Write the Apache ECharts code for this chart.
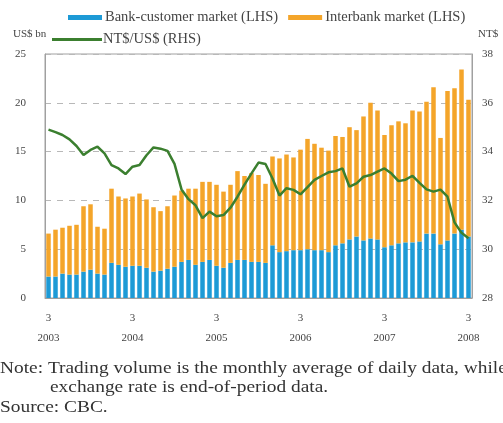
<!DOCTYPE html>
<html>
<head>
<meta charset="utf-8">
<script src="https://cdn.jsdelivr.net/npm/echarts@6/dist/echarts.min.js"></script>
<style>
html,body{margin:0;padding:0;background:#fff;overflow:hidden;}
#chart{width:503px;height:423px;}
</style>
</head>
<body>
<div id="chart"></div>
<script>
// Monthly, Mar 2003 – Mar 2008
const startYear = 2003, startMonth = 3, monthCount = 61;
const categories = [];
for (let i = 0; i < monthCount; i++) {
  const m = (startMonth - 1 + i) % 12 + 1;
  const y = startYear + Math.floor((startMonth - 1 + i) / 12);
  categories.push(y + '-' + (m < 10 ? '0' + m : m));
}

const bankCustomer = [
  2.2, 2.2, 2.5, 2.4, 2.4, 2.7, 2.9, 2.5, 2.4, 3.6,
  3.4, 3.2, 3.3, 3.3, 3.1, 2.7, 2.8, 3.0, 3.2, 3.7,
  3.9, 3.4, 3.7, 3.9, 3.3, 3.1, 3.6, 3.9, 3.9, 3.7,
  3.7, 3.6, 5.4, 4.7, 4.8, 4.9, 4.9, 5.0, 4.9, 4.9,
  4.7, 5.4, 5.6, 6.0, 6.3, 5.9, 6.1, 6.0, 5.2, 5.4,
  5.6, 5.7, 5.7, 5.8, 6.6, 6.6, 5.5, 5.9, 6.6, 7.0,
  6.3
];
const interbank = [
  4.4, 4.8, 4.7, 5.0, 5.1, 6.7, 6.7, 4.8, 4.7, 7.6,
  7.0, 7.0, 7.1, 7.4, 7.0, 6.6, 6.1, 6.4, 7.3, 7.3,
  7.3, 7.8, 8.2, 8.0, 8.3, 7.8, 8.0, 9.1, 8.6, 9.1,
  8.9, 8.1, 9.1, 9.6, 9.9, 9.5, 10.3, 11.3, 10.9, 10.5,
  10.4, 11.2, 10.9, 11.5, 10.9, 12.7, 13.9, 13.2, 11.5, 12.3,
  12.5, 12.2, 13.5, 13.3, 13.5, 15.0, 10.9, 15.3, 14.9, 16.4,
  14.0
];
const ntdPerUsd = [
  34.90, 34.80, 34.68, 34.50, 34.23, 33.86, 34.07, 34.20, 33.93, 33.45,
  33.31, 33.08, 33.38, 33.45, 33.85, 34.17, 34.12, 34.03, 33.50, 32.45,
  32.05, 31.80, 31.27, 31.54, 31.35, 31.40, 31.70, 32.15, 32.65, 33.11,
  33.55, 33.49, 32.90, 32.20, 32.50, 32.43, 32.25, 32.54, 32.84, 33.00,
  33.15, 33.20, 33.31, 32.56, 32.70, 32.97, 33.04, 33.18, 33.31, 33.10,
  32.79, 32.85, 33.01, 32.72, 32.45, 32.36, 32.44, 32.15, 31.10, 30.67,
  30.45
];
const leftTicks = { min: 0, max: 25, interval: 5 };
const rightTicks = { min: 28, max: 38, interval: 2 };

const serif = 'Liberation Serif';
const chart = echarts.init(document.getElementById('chart'), null, { renderer: 'canvas' });
chart.setOption({
  animation: false,
  backgroundColor: '#fff',
  textStyle: { fontFamily: serif },
  grid: { left: 45, right: 31, top: 54, bottom: 125, show: true, borderColor: '#a0a0a0', borderWidth: 1, backgroundColor: 'transparent' },
  legend: [
    {
      data: ['Bank-customer market (LHS)', 'Interbank market (LHS)'],
      left: 63, top: 5, itemWidth: 34, itemHeight: 5, itemGap: 10,
      icon: 'rect',
      textStyle: { fontFamily: serif, fontSize: 14.5, color: '#444', padding: [0, 0, 0, -2] }
    },
    {
      data: ['NT$/US$ (RHS)'],
      left: 47, top: 27, itemWidth: 50, itemHeight: 3, itemGap: 4,
      icon: 'rect',
      textStyle: { fontFamily: serif, fontSize: 14.5, color: '#444', padding: [0, 0, 0, -4] }
    }
  ],
  xAxis: {
    type: 'category',
    data: categories,
    boundaryGap: true,
    axisLine: { show: true, lineStyle: { color: '#a0a0a0' } },
    axisTick: { show: false },
    axisLabel: {
      interval: (idx) => idx % 12 === 0,
      formatter: (v) => { const p = v.split('-'); return parseInt(p[1], 10) + '\n' + p[0]; },
      fontFamily: serif, fontSize: 11, color: '#444', lineHeight: 20, margin: 10
    }
  },
  yAxis: [
    {
      type: 'value', min: leftTicks.min, max: leftTicks.max, interval: leftTicks.interval,
      axisLine: { show: true, lineStyle: { color: '#a0a0a0' } },
      axisTick: { show: false },
      axisLabel: { fontFamily: serif, fontSize: 11, color: '#444', margin: 19 },
      splitLine: { show: true, lineStyle: { color: '#b8b8b8', type: [6, 6], width: 1 } }
    },
    {
      type: 'value', min: rightTicks.min, max: rightTicks.max, interval: rightTicks.interval,
      position: 'right',
      axisLine: { show: true, lineStyle: { color: '#a0a0a0' } },
      axisTick: { show: false },
      axisLabel: { fontFamily: serif, fontSize: 11, color: '#444', margin: 10 },
      splitLine: { show: false }
    }
  ],
  series: [
    {
      name: 'Bank-customer market (LHS)', type: 'bar', stack: 'vol', yAxisIndex: 0,
      data: bankCustomer, barWidth: 4.5, itemStyle: { color: '#1d9ad6' }
    },
    {
      name: 'Interbank market (LHS)', type: 'bar', stack: 'vol', yAxisIndex: 0,
      data: interbank, barWidth: 4.5, itemStyle: { color: '#f4a52a' }
    },
    {
      name: 'NT$/US$ (RHS)', type: 'line', yAxisIndex: 1,
      data: ntdPerUsd, symbol: 'none', smooth: false,
      lineStyle: { color: '#3b7f2f', width: 2.5 }, itemStyle: { color: '#3b7f2f' }, z: 5
    }
  ],
  graphic: [
    { type: 'text', x: 13, y: 29, style: { text: 'US$ bn', font: '11px "Liberation Serif"', fill: '#444' } },
    { type: 'text', x: 478, y: 29, style: { text: 'NT$', font: '11px "Liberation Serif"', fill: '#444' } },
    { type: 'text', x: 0, y: 360, scaleX: 1.14, style: { text: 'Note: Trading volume is the monthly average of daily data, while', font: '17px "Liberation Serif"', fill: '#333' } },
    { type: 'text', x: 50, y: 379, scaleX: 1.14, style: { text: 'exchange rate is end-of-period data.', font: '17px "Liberation Serif"', fill: '#333' } },
    { type: 'text', x: 0, y: 399, scaleX: 1.14, style: { text: 'Source: CBC.', font: '17px "Liberation Serif"', fill: '#333' } }
  ]
});
</script>
</body>
</html>
